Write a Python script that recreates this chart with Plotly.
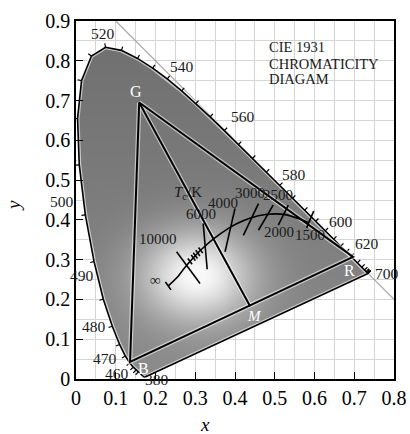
import numpy as np
import plotly.graph_objects as go

# ---------------- data ----------------
# CIE 1931 spectral locus (wavelength nm, x, y)
wl = [380, 385, 390, 395, 400, 405, 410, 415, 420, 425, 430, 435, 440, 445, 450, 455,
      460, 465, 470, 475, 480, 485, 490, 495, 500, 505, 510, 515, 520, 525, 530, 535,
      540, 545, 550, 555, 560, 565, 570, 575, 580, 585, 590, 595, 600, 605, 610, 615,
      620, 625, 630, 635, 640, 645, 650, 655, 660, 665, 670, 675, 680, 685, 690, 695, 700]
loc_x = [0.1741, 0.1740, 0.1738, 0.1736, 0.1733, 0.1730, 0.1726, 0.1721, 0.1714, 0.1703,
         0.1689, 0.1669, 0.1644, 0.1611, 0.1566, 0.1510, 0.1440, 0.1355, 0.1241, 0.1096,
         0.0913, 0.0687, 0.0454, 0.0235, 0.0082, 0.0039, 0.0139, 0.0389, 0.0743, 0.1142,
         0.1547, 0.1929, 0.2296, 0.2658, 0.3016, 0.3373, 0.3731, 0.4087, 0.4441, 0.4788,
         0.5125, 0.5448, 0.5752, 0.6029, 0.6270, 0.6482, 0.6658, 0.6801, 0.6915, 0.7006,
         0.7079, 0.7140, 0.7190, 0.7230, 0.7260, 0.7283, 0.7300, 0.7311, 0.7320, 0.7327,
         0.7334, 0.7340, 0.7344, 0.7346, 0.7347]
loc_y = [0.0050, 0.0050, 0.0049, 0.0049, 0.0048, 0.0048, 0.0048, 0.0048, 0.0051, 0.0058,
         0.0069, 0.0086, 0.0109, 0.0138, 0.0177, 0.0227, 0.0297, 0.0399, 0.0578, 0.0868,
         0.1327, 0.2007, 0.2950, 0.4127, 0.5384, 0.6548, 0.7502, 0.8120, 0.8338, 0.8262,
         0.8059, 0.7816, 0.7543, 0.7243, 0.6923, 0.6589, 0.6245, 0.5896, 0.5547, 0.5202,
         0.4866, 0.4544, 0.4242, 0.3965, 0.3725, 0.3514, 0.3340, 0.3197, 0.3083, 0.2993,
         0.2920, 0.2859, 0.2809, 0.2770, 0.2740, 0.2717, 0.2700, 0.2689, 0.2680, 0.2673,
         0.2666, 0.2660, 0.2656, 0.2654, 0.2653]

# wavelength labels
wl_labels = ["520", "540", "560", "580", "600", "620", "700", "500", "490", "480", "470", "460", "380"]
wl_lab_x = [0.069, 0.266, 0.421, 0.548, 0.667, 0.733, 0.782, -0.034, 0.016, 0.045, 0.073, 0.102, 0.205]
wl_lab_y = [0.868, 0.785, 0.659, 0.513, 0.395, 0.341, 0.266, 0.445, 0.259, 0.131, 0.052, 0.013, 0.000]

# triangle primaries and M point
prim_names = ["G", "B", "R"]
prim_x = [0.159, 0.136, 0.697]
prim_y = [0.695, 0.043, 0.307]
m_x, m_y = 0.438, 0.183
prim_lab_x = [0.150, 0.171, 0.688]
prim_lab_y = [0.724, 0.027, 0.272]
m_lab_x, m_lab_y = 0.448, 0.158

# Planckian locus (temperature K, x, y)
pl_T = [1500, 2000, 2500, 3000, 3500, 4000, 5000, 6000, 7000, 8000, 10000, 15000, 20000, "inf"]
pl_x = [0.5857, 0.5267, 0.4770, 0.4369, 0.4053, 0.3805, 0.3451, 0.3221, 0.3064, 0.2952,
        0.2807, 0.2637, 0.2565, 0.2320]
pl_y = [0.3931, 0.4133, 0.4137, 0.4041, 0.3907, 0.3768, 0.3516, 0.3318, 0.3166, 0.3048,
        0.2883, 0.2673, 0.2577, 0.2340]

# isotemperature lines (end points)
iso_x0 = [0.253, 0.320, 0.400, 0.459, 0.496, 0.534, 0.598, 0.225]
iso_y0 = [0.320, 0.391, 0.429, 0.441, 0.437, 0.437, 0.422, 0.244]
iso_x1 = [0.312, 0.330, 0.375, 0.421, 0.459, 0.509, 0.580, 0.239]
iso_y1 = [0.240, 0.276, 0.320, 0.361, 0.374, 0.387, 0.380, 0.224]

# short hatches on the Planckian locus (9000, 8000, 7500, 7000, 6500 K)
hatch_x = [0.2867, 0.2952, 0.3003, 0.3064, 0.3135]
hatch_y = [0.2956, 0.3048, 0.3103, 0.3166, 0.3236]

temp_labels = ["<i>T</i><sub>c</sub>/K", "6000", "4000", "3000", "2500", "2000", "1500", "10000", "∞"]
temp_lab_x = [0.282, 0.314, 0.369, 0.438, 0.507, 0.510, 0.589, 0.207, 0.200]
temp_lab_y = [0.468, 0.416, 0.443, 0.467, 0.462, 0.370, 0.362, 0.353, 0.249]

title_lines = ["CIE 1931", "CHROMATICITY", "DIAGAM"]
title_y = [0.834, 0.792, 0.754]
title_x = 0.480

x_ticks = [0, 0.1, 0.2, 0.3, 0.4, 0.5, 0.6, 0.7, 0.8]
y_ticks = [0, 0.1, 0.2, 0.3, 0.4, 0.5, 0.6, 0.7, 0.8, 0.9]

# ---------------- helpers ----------------
SERIF = "Liberation Serif, Times New Roman, serif"
XMAX, YMAX = 0.8, 0.9
lx = np.array(loc_x)
ly = np.array(loc_y)
poly_x = np.append(lx, lx[0])
poly_y = np.append(ly, ly[0])

# shaded fill inside the locus (decorative gradient)
gx = np.arange(0.0, 0.76, 0.0025)
gy = np.arange(0.0, 0.85, 0.0025)
GX, GY = np.meshgrid(gx, gy)
inside = np.zeros(GX.shape, dtype=bool)
n = len(poly_x) - 1
for i in range(n):
    x1, y1, x2, y2 = poly_x[i], poly_y[i], poly_x[i + 1], poly_y[i + 1]
    cond = (y1 > GY) != (y2 > GY)
    with np.errstate(divide="ignore", invalid="ignore"):
        xin = x1 + (GY - y1) * (x2 - x1) / (y2 - y1)
    inside ^= cond & (GX < xin)
ddx = (GX - 0.305) / 0.10
ddy = (GY - 0.26) / 0.08
shade = 112 + 26 * (1 - GY / 0.84) + 120 * np.exp(-0.5 * (ddx ** 2 + ddy ** 2))
shade = np.clip(shade, 0, 248)
shade = np.where(inside, shade, np.nan)

fig = go.Figure()

# x + y = 1 line
fig.add_trace(go.Scatter(x=[0.1, 0.8], y=[0.9, 0.2], mode="lines",
                         line=dict(color="#a8a8a8", width=1.2), hoverinfo="skip"))

fig.add_trace(go.Heatmap(x=gx, y=gy, z=shade, zmin=0, zmax=255,
                         colorscale=[[0, "black"], [1, "white"]], showscale=False,
                         hoverinfo="skip"))

# locus outline (light halo + black)
fig.add_trace(go.Scatter(x=poly_x, y=poly_y, mode="lines",
                         line=dict(color="rgba(255,255,255,0.6)", width=4), hoverinfo="skip"))
fig.add_trace(go.Scatter(x=poly_x, y=poly_y, mode="lines",
                         line=dict(color="black", width=1.6), hoverinfo="skip"))

# wavelength ticks (outward normals)
tx, ty = [], []
tick_len = 0.010
for i in range(len(wl)):
    if wl[i] < 450 or (wl[i] > 620 and wl[i] % 10 != 0):
        continue
    a = max(i - 1, 0)
    b = min(i + 1, len(wl) - 1)
    dx_, dy_ = lx[b] - lx[a], ly[b] - ly[a]
    L = np.hypot(dx_, dy_)
    nx_, ny_ = -dy_ / L, dx_ / L
    tx += [lx[i], lx[i] + nx_ * tick_len, None]
    ty += [ly[i], ly[i] + ny_ * tick_len, None]
fig.add_trace(go.Scatter(x=tx, y=ty, mode="lines", line=dict(color="black", width=1.2),
                         hoverinfo="skip"))

# triangle and G-M line
tri_x = [prim_x[0], prim_x[1], prim_x[2], prim_x[0], None, prim_x[0], m_x]
tri_y = [prim_y[0], prim_y[1], prim_y[2], prim_y[0], None, prim_y[0], m_y]
fig.add_trace(go.Scatter(x=tri_x, y=tri_y, mode="lines",
                         line=dict(color="rgba(255,255,255,0.55)", width=4.5), hoverinfo="skip"))
fig.add_trace(go.Scatter(x=tri_x, y=tri_y, mode="lines",
                         line=dict(color="black", width=2), hoverinfo="skip"))

# Planckian locus
fig.add_trace(go.Scatter(x=pl_x, y=pl_y, mode="lines", line=dict(color="black", width=1.6, shape="spline"),
                         hoverinfo="skip"))

# isotemperature lines
ix, iy = [], []
for a0, b0, a1, b1 in zip(iso_x0, iso_y0, iso_x1, iso_y1):
    ix += [a0, a1, None]
    iy += [b0, b1, None]
hdx, hdy = 0.0583 * 0.18, -0.0794 * 0.18
for hx, hy in zip(hatch_x, hatch_y):
    ix += [hx - hdx / 2, hx + hdx / 2, None]
    iy += [hy - hdy / 2, hy + hdy / 2, None]
fig.add_trace(go.Scatter(x=ix, y=iy, mode="lines", line=dict(color="black", width=1.6),
                         hoverinfo="skip"))


def ann(x, y, text, size, color="#1a1a1a", xanchor="center"):
    return dict(x=x / XMAX, y=y / YMAX, text=text, showarrow=False, xref="paper", yref="paper",
                xanchor=xanchor, yanchor="middle",
                font=dict(family=SERIF, size=size, color=color))


annotations = []
for t, x, y in zip(wl_labels, wl_lab_x, wl_lab_y):
    annotations.append(ann(x, y, t, 15.5))
for t, x, y in zip(prim_names, prim_lab_x, prim_lab_y):
    annotations.append(ann(x, y, t, 16, "white"))
annotations.append(ann(m_lab_x, m_lab_y, "<i>M</i>", 15, "white"))
for t, x, y in zip(temp_labels, temp_lab_x, temp_lab_y):
    annotations.append(ann(x, y, t, 15))
for t, y in zip(title_lines, title_y):
    annotations.append(ann(title_x, y, t, 14.5, xanchor="left"))
# axis titles (pixel targets: x at (205, 425), y at (13, 205))
annotations.append(dict(x=(205 - 76) / 318, y=-(424 - 379) / 358, xref="paper", yref="paper",
                        text="<i>x</i>", showarrow=False, xanchor="center", yanchor="middle",
                        font=dict(family=SERIF, size=19, color="black")))
annotations.append(dict(x=-(76 - 13) / 318, y=(379 - 205) / 358, xref="paper", yref="paper",
                        text="<i>y</i>", textangle=-90, showarrow=False, xanchor="center",
                        yanchor="middle", font=dict(family=SERIF, size=19, color="black")))

axis_common = dict(showline=True, linecolor="black", linewidth=1.5, mirror=True,
                   ticks="inside", ticklen=7, tickcolor="black", tickwidth=1.2,
                   showgrid=True, gridcolor="#d4d4d4", gridwidth=1, zeroline=False,
                   automargin=False,
                   tickfont=dict(family=SERIF, size=20, color="black"),
                   minor=dict(dtick=0.05, showgrid=True, gridcolor="#d4d4d4", gridwidth=1))

fig.update_layout(
    width=410, height=434,
    margin=dict(l=76, r=16, t=21, b=55, autoexpand=False),
    paper_bgcolor="white", plot_bgcolor="white",
    showlegend=False,
    xaxis=dict(range=[0, XMAX], tickvals=x_ticks, ticktext=[("0" if v == 0 else f"{v:g}") for v in x_ticks],
               **axis_common),
    yaxis=dict(range=[0, YMAX], tickvals=y_ticks, ticktext=[("0" if v == 0 else f"{v:g}") for v in y_ticks],
               **axis_common),
    annotations=annotations,
)

fig.write_html("out.html", config={"displayModeBar": False},
               post_script="document.body.style.margin='0';document.body.style.overflow='hidden';")
